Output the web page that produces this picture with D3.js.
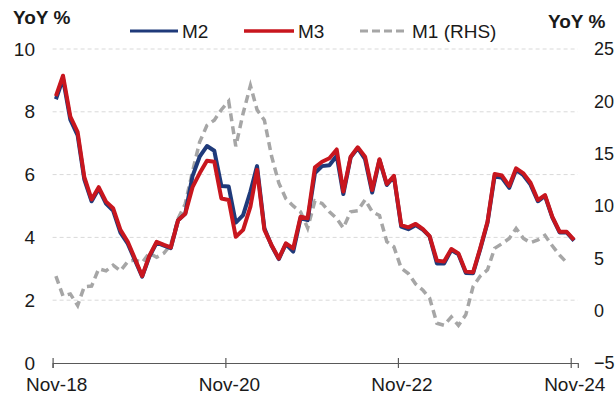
<!DOCTYPE html>
<html><head><meta charset="utf-8">
<script src="https://cdn.jsdelivr.net/npm/d3@7"></script>
<style>
body{margin:0;background:#fff}
svg{display:block}
text{font-family:"Liberation Sans",Arial,Helvetica,sans-serif;fill:#1a1a1a}
</style>
</head><body>
<svg id="c" width="615" height="396"></svg>
<script>
// ---- data (monthly, first month Nov-2018) ----
const firstYear = 2018, firstMonth = 10; // Nov (0-based month)
const m2 = [8.4,9.05,7.75,7.25,5.85,5.15,5.55,5.08,4.85,4.15,3.8,3.28,2.75,3.38,3.83,3.74,3.66,4.55,4.75,5.95,
  6.57,6.91,6.76,5.64,5.62,4.47,4.71,5.46,6.27,4.29,3.74,3.31,3.79,3.55,4.61,4.55,6.05,6.27,6.3,6.6,
  5.38,6.55,6.84,6.49,5.43,6.47,5.67,5.94,4.34,4.26,4.39,4.24,4.03,3.17,3.17,3.6,3.46,2.87,2.86,3.62,
  4.47,5.95,5.9,5.58,6.15,5.98,5.68,5.15,5.32,4.64,4.16,4.16,3.9];
const m3 = [8.5,9.15,7.85,7.35,5.93,5.21,5.6,5.14,4.93,4.24,3.86,3.33,2.77,3.41,3.86,3.76,3.68,4.55,4.75,5.6,
  6.04,6.44,6.41,5.24,5.19,4.02,4.24,4.98,6.15,4.24,3.76,3.33,3.81,3.65,4.66,4.61,6.23,6.41,6.52,6.8,
  5.46,6.57,6.87,6.57,5.51,6.49,5.7,5.96,4.39,4.32,4.43,4.26,4.04,3.26,3.23,3.63,3.49,2.91,2.89,3.65,
  4.5,6.02,5.97,5.64,6.2,6.04,5.74,5.19,5.35,4.66,4.18,4.18,3.92];
const m1 = [3.3,1.4,1.6,0.5,2.3,2.35,4.0,3.8,4.35,3.8,4.7,4.85,4.6,5.5,5.1,5.5,6.3,8.8,10.2,13.3,
  16.1,17.7,18.2,19.2,20.0,15.7,18.85,21.5,19.2,18.2,14.8,12.2,10.7,10.0,9.45,7.9,10.5,10.25,9.45,8.8,
  7.9,9.45,9.55,10.6,9.45,9.1,6.6,6.1,4.05,3.55,2.55,1.95,1.2,-1.2,-1.4,-0.6,-1.4,-0.4,2.3,3.3,
  3.9,5.95,6.4,6.9,7.85,6.9,6.5,6.75,7.2,6.2,5.3,4.6];
const leftTicks = [0,2,4,6,8,10];
const rightTicks = [-5,0,5,10,15,20,25];
const gridTicks = [2,4,6,8,10];
const xTickLabels = ["Nov-18","Nov-20","Nov-22","Nov-24"];
const seriesNames = ["M2","M3","M1 (RHS)"];
const axisTitle = "YoY %";

// ---- styles ----
const colM2 = "#1F3A7A", colM3 = "#C8161E", colM1 = "#A6A6A6";

const svg = d3.select("#c");
const parseTick = d3.timeParse("%b-%y");
const x = d3.scaleTime().domain([new Date(2018,10,1), new Date(2024,11,1)]).range([52.6, 577.8]);
const yL = d3.scaleLinear().domain([0,10]).range([363,49]);
const yR = d3.scaleLinear().domain([-5,25]).range([363,49]);
const dateOf = i => new Date(firstYear, firstMonth + i, 15);

// gridlines
svg.append("g").selectAll("line").data(gridTicks).join("line")
  .attr("x1", x.range()[0]).attr("x2", x.range()[1])
  .attr("y1", d => yL(d)).attr("y2", d => yL(d))
  .attr("stroke", "#d9d9d9").attr("stroke-width", 1).attr("stroke-dasharray", "4,3");

// x axis
const tickDates = xTickLabels.map(parseTick);
const gx = svg.append("g").attr("transform", "translate(0,363)")
  .call(d3.axisBottom(x).tickValues(tickDates).tickFormat(d3.timeFormat("%b-%y")).tickSizeOuter(0).tickSize(5));
gx.select(".domain").attr("stroke", "#595959").attr("stroke-width", 1.2);
gx.selectAll(".tick line").attr("y1", -5).attr("y2", 5).attr("stroke", "#595959").attr("stroke-width", 1.2);
const shift = x(new Date(2018,10,16)) - x(new Date(2018,10,1));
gx.selectAll(".tick text").attr("y", 28).attr("dy", 0).attr("dx", shift)
  .style("font-size", "19px").attr("fill", "#1a1a1a");

// left axis
const gl = svg.append("g").attr("transform", "translate(35,0)")
  .call(d3.axisLeft(yL).tickValues(leftTicks).tickSize(0).tickPadding(0));
gl.select(".domain").remove();
gl.selectAll("text").style("font-size", "19px").attr("fill", "#1a1a1a");

// right axis
const gr = svg.append("g").attr("transform", "translate(594,0)")
  .call(d3.axisRight(yR).tickValues(rightTicks).tickSize(0).tickPadding(0));
gr.select(".domain").remove();
gr.selectAll("text").style("font-size", "18px").attr("fill", "#1a1a1a");

// lines
const lineL = d3.line().x((d,i) => x(dateOf(i))).y(d => yL(d));
const lineR = d3.line().x((d,i) => x(dateOf(i))).y(d => yR(d));
svg.append("path").datum(m1).attr("d", lineR).attr("fill","none")
  .attr("stroke", colM1).attr("stroke-width", 3.5).attr("stroke-dasharray", "8,5");
svg.append("path").datum(m2).attr("d", lineL).attr("fill","none")
  .attr("stroke", colM2).attr("stroke-width", 4).attr("stroke-linejoin","round");
svg.append("path").datum(m3).attr("d", lineL).attr("fill","none")
  .attr("stroke", colM3).attr("stroke-width", 4).attr("stroke-linejoin","round");

// titles
svg.append("text").attr("x", 13).attr("y", 24).text(axisTitle)
  .style("font-size","19px").style("font-weight","bold");
svg.append("text").attr("x", 548).attr("y", 28).text(axisTitle)
  .style("font-size","19px").style("font-weight","bold");

// legend
const legend = [
  {name: seriesNames[0], col: colM2, x0: 130, x1: 178, dash: null, w: 3},
  {name: seriesNames[1], col: colM3, x0: 244, x1: 294, dash: null, w: 3.5},
  {name: seriesNames[2], col: colM1, x0: 360, x1: 408, dash: "8,4", w: 3}
];
const lg = svg.append("g");
legend.forEach(l => {
  lg.append("line").attr("x1", l.x0).attr("x2", l.x1).attr("y1", 31).attr("y2", 31)
    .attr("stroke", l.col).attr("stroke-width", l.w).attr("stroke-dasharray", l.dash);
  lg.append("text").attr("x", l.x1 + 4).attr("y", 38).text(l.name).style("font-size","19px");
});
</script>
</body></html>
